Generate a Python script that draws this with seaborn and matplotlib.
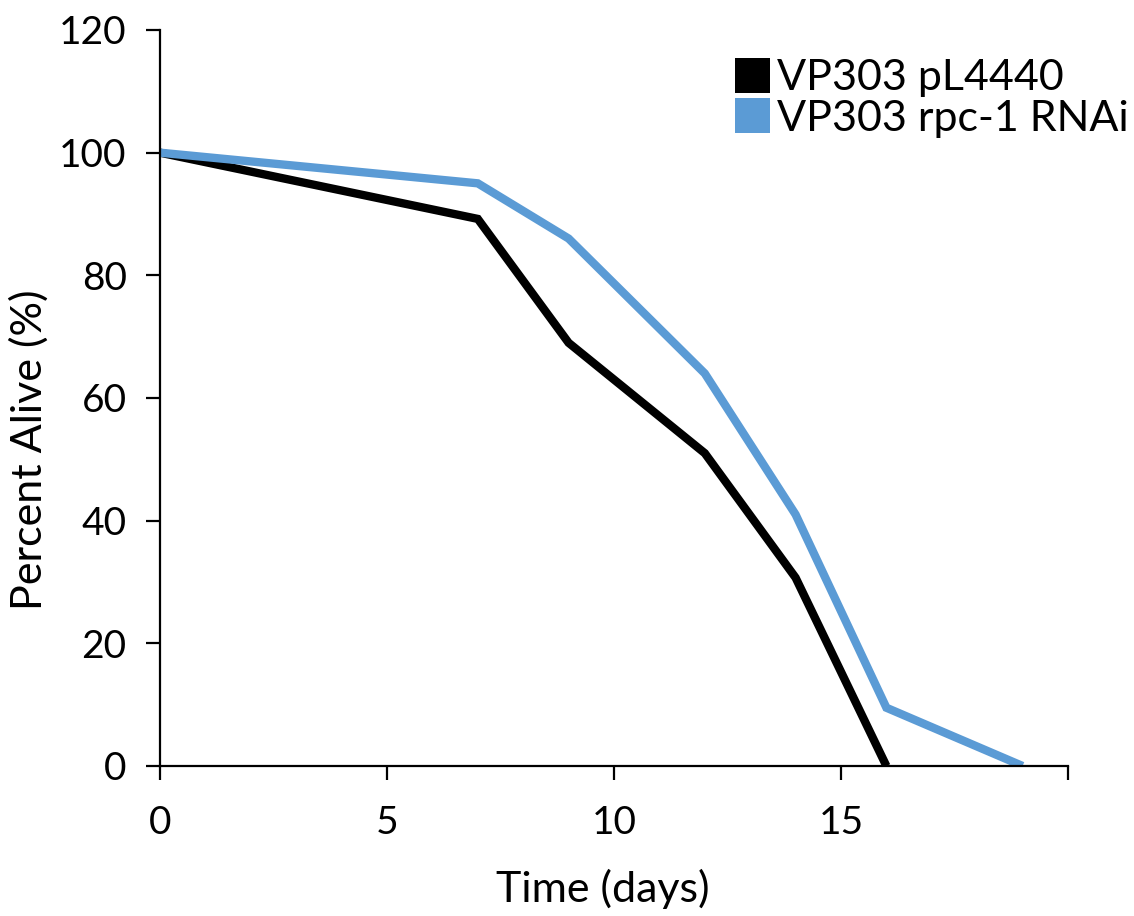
import matplotlib
matplotlib.use("Agg")
import matplotlib.pyplot as plt
from matplotlib.patches import Patch
import seaborn as sns
import pandas as pd

days = [0, 7, 9, 12, 14, 16, 19]
control_alive = [100, 89.2, 69, 51, 30.7, 0]
rnai_alive = [100, 95, 86, 64, 41, 9.5, 0]
series_names = ["VP303 pL4440", "VP303 rpc-1 RNAi"]
series_colors = ["#000000", "#5B9BD5"]
x_ticks = [0, 5, 10, 15, 20]
x_tick_labels = ["0", "5", "10", "15", ""]
y_ticks = [0, 20, 40, 60, 80, 100, 120]

df = pd.concat([
    pd.DataFrame({"Time": days[:len(control_alive)], "Alive": control_alive, "Strain": series_names[0]}),
    pd.DataFrame({"Time": days[:len(rnai_alive)], "Alive": rnai_alive, "Strain": series_names[1]}),
])

sns.set_style("white")
plt.rcParams["font.family"] = ["Lato", "DejaVu Sans"]
plt.rcParams["text.color"] = "black"
plt.rcParams["axes.labelcolor"] = "black"
plt.rcParams["xtick.color"] = "black"
plt.rcParams["ytick.color"] = "black"

fig = plt.figure(figsize=(11.34, 9.16), dpi=100)
ax = fig.add_axes([160 / 1134, 150 / 916, 908 / 1134, 736 / 916])

sns.lineplot(data=df, x="Time", y="Alive", hue="Strain", palette=series_colors,
             hue_order=series_names, linewidth=6, ax=ax, legend=False,
             solid_joinstyle="miter", solid_capstyle="butt")

ax.set_xlim(0, 20)
ax.set_ylim(0, 120)
ax.set_xticks(x_ticks)
ax.set_xticklabels(x_tick_labels)
ax.set_yticks(y_ticks)
for s in ["top", "right"]:
    ax.spines[s].set_visible(False)
for s in ["left", "bottom"]:
    ax.spines[s].set_linewidth(1.6)
    ax.spines[s].set_color("black")
ax.tick_params(axis="both", direction="out", length=10, width=1.6, color="black",
               labelsize=28, bottom=True, left=True, labelcolor="black")
ax.tick_params(axis="x", pad=18)
ax.tick_params(axis="y", pad=14)
ax.set_xlabel("Time (days)", fontsize=31)
ax.set_ylabel("Percent Alive (%)", fontsize=31)
ax.xaxis.set_label_coords(0.488, -0.14)
ax.yaxis.set_label_coords(-0.122, 0.43)

handles = [Patch(facecolor=c, edgecolor="none") for c in series_colors]
ax.legend(handles, series_names, loc="upper left", bbox_to_anchor=(0.633, 0.962),
          frameon=False, prop={"size": 31}, handlelength=0.82, handleheight=0.88,
          handletextpad=0.15, labelspacing=0.02, borderaxespad=0, borderpad=0)

fig.savefig("out.png", dpi=100)
